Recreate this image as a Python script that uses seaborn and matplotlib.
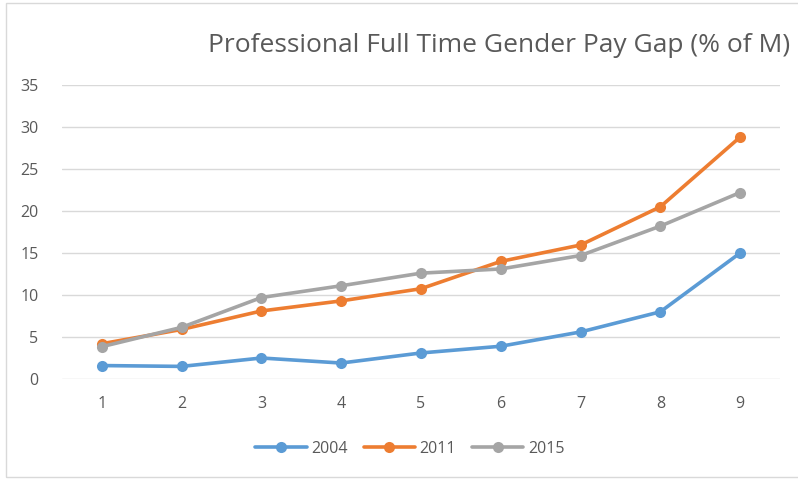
import pandas as pd
import seaborn as sns
import matplotlib.pyplot as plt
from matplotlib.patches import Rectangle

# Dados
x_vals = [1, 2, 3, 4, 5, 6, 7, 8, 9]
gap_2004 = [1.6, 1.5, 2.5, 1.9, 3.1, 3.9, 5.6, 8.0, 15.0]
gap_2011 = [4.2, 5.9, 8.1, 9.3, 10.75, 14.0, 15.95, 20.5, 28.8]
gap_2015 = [3.85, 6.15, 9.7, 11.1, 12.6, 13.1, 14.7, 18.2, 22.2]
years = ['2004', '2011', '2015']
cores = ['#5B9BD5', '#ED7D31', '#A5A5A5']

df = pd.DataFrame({
    'x': x_vals * 3,
    'gap': gap_2004 + gap_2011 + gap_2015,
    'ano': [years[0]] * 9 + [years[1]] * 9 + [years[2]] * 9,
})

sns.set_style('white')
plt.rcParams['font.family'] = ['Open Sans', 'DejaVu Sans']
texto = '#595959'

fig = plt.figure(figsize=(7.98, 4.8), dpi=100)
ax = fig.add_axes([62 / 798, 1 - 379 / 480, 718 / 798, 294 / 480])

sns.lineplot(data=df, x='x', y='gap', hue='ano', palette=cores, marker='o',
             markersize=8, markeredgewidth=0, linewidth=2.6, ax=ax, legend=False)

ax.set_xlim(0.5, 9.5)
ax.set_ylim(0, 35)
ax.set_xticks(x_vals)
ax.set_yticks(range(0, 36, 5))
ax.grid(axis='y', color='#D9D9D9', linewidth=1)
ax.set_axisbelow(True)
for s in ax.spines.values():
    s.set_visible(False)
ax.tick_params(axis='both', length=0, labelsize=11.5, labelcolor=texto)
ax.tick_params(axis='y', pad=17)
ax.tick_params(axis='x', pad=12)
ax.set_xlabel('')
ax.set_ylabel('')

fig.text(499 / 798, 1 - 46 / 480, 'Professional Full Time Gender Pay Gap (% of M)',
         ha='center', va='center', fontsize=19, color=texto)

# legenda
handles = [plt.Line2D([], [], color=c, marker='o', markersize=8, markeredgewidth=0,
                      linewidth=2.6) for c in cores]
fig.legend(handles, years, loc='center', bbox_to_anchor=(410 / 798, 1 - 449 / 480),
           ncol=3, frameon=False, fontsize=11.5, labelcolor=texto, handlelength=3.2,
           columnspacing=1.0, handletextpad=0.3)

# borda do grafico
fig.patches.append(Rectangle((6 / 798, 3 / 480), 1, 474 / 480, transform=fig.transFigure,
                             fill=False, edgecolor='#D9D9D9', linewidth=1))

plt.savefig('out.png', dpi=100)
